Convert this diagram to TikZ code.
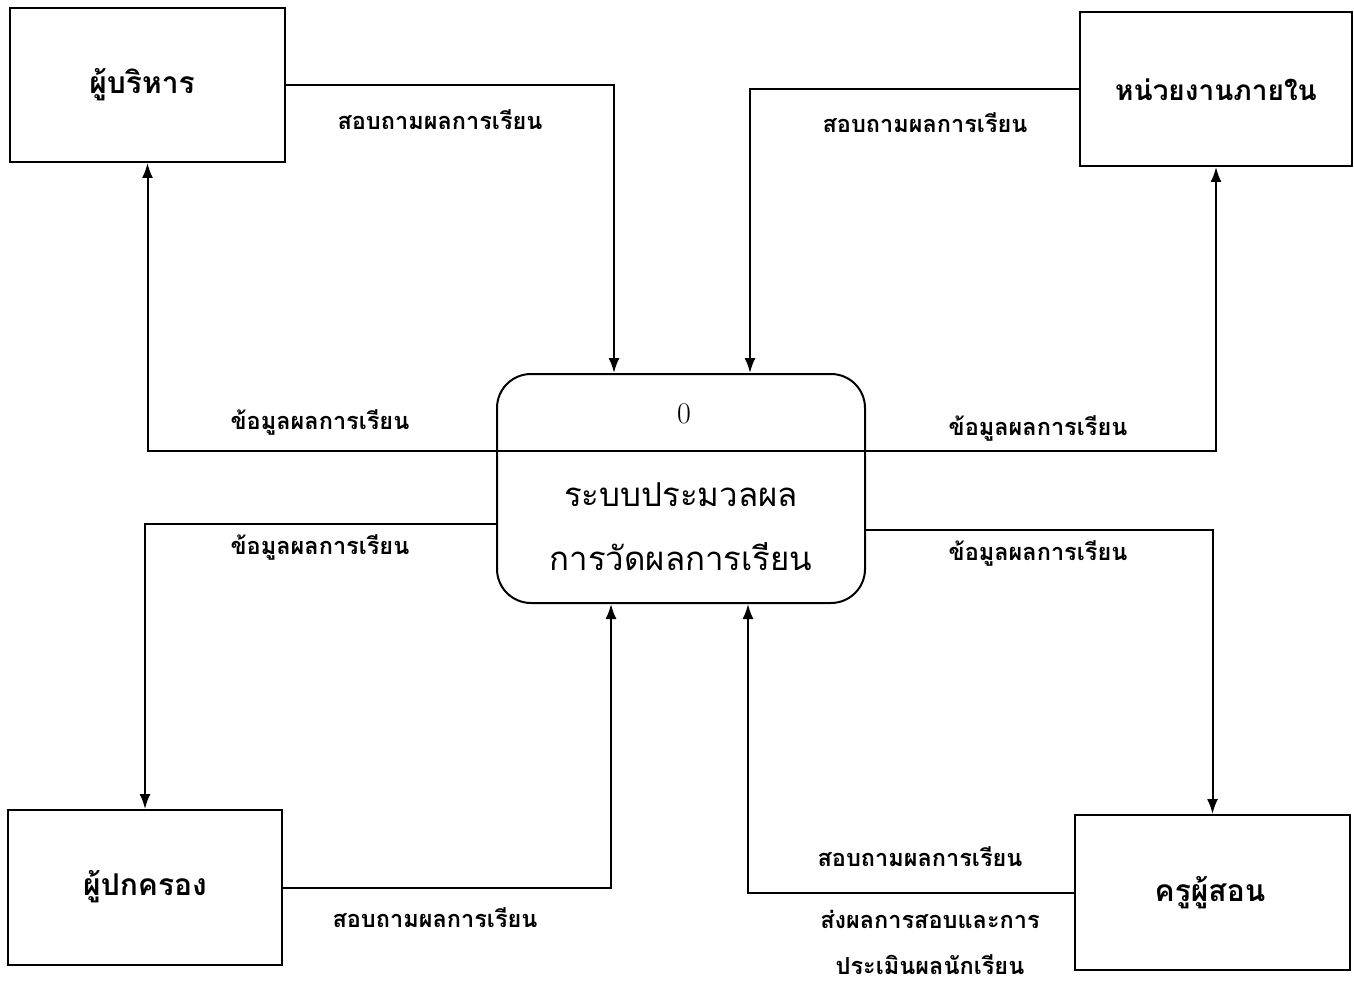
\documentclass[tikz,border=0pt]{standalone}
\usepackage{fontspec}
\newfontfamily\thai[Script=Thai]{Loma}
\usetikzlibrary{arrows.meta}
\begin{document}
\begin{tikzpicture}[x=1pt,y=-1pt,
  line width=2pt,
  entity/.style={draw, minimum width=275pt, minimum height=154pt, inner sep=0pt},
  entitylabel/.style={inner sep=0pt, font=\thai\bfseries\fontsize{30}{34}\selectfont},
  process/.style={draw, rounded corners=34pt, minimum width=368pt, minimum height=229pt, inner sep=0pt},
  flow/.style={-{Latex[length=15pt,width=11pt]}},
  flowlabel/.style={inner sep=0pt, font=\thai\bfseries\fontsize{23.5}{27}\selectfont},
  proclabel/.style={inner sep=0pt, font=\thai\fontsize{33}{37}\selectfont}]
\useasboundingbox (0,0) rectangle (1354,987);

% external entities
\node[entity] (exec) at (147.5,85) {};
\node[entity, minimum width=272pt] (internal) at (1216,89) {};
\node[entity, minimum width=274pt, minimum height=155pt] (parent) at (145,887.5) {};
\node[entity, minimum height=155pt] (teacher) at (1212.5,892.5) {};

\node[entitylabel] (execT) at (142,85) {ผู้บริหาร};
\node[entitylabel, font=\thai\bfseries\fontsize{28}{32}\selectfont] (internalT) at (1216,90) {หน่วยงานภายใน};
\node[entitylabel] (parentT) at (145,887) {ผู้ปกครอง};
\node[entitylabel] (teacherT) at (1210,893) {ครูผู้สอน};

% process
\node[process] (proc) at (681,488.5) {};
\node[inner sep=0pt, font=\fontsize{30}{34}\selectfont] (procid) at (684,414) {0};
\node[proclabel] (procA) at (681,495) {ระบบประมวลผล};
\node[proclabel] (procB) at (681,557) {การวัดผลการเรียน};

% process divider, continued by the flows to the upper entities
\draw ([yshift=37.5pt]proc.west) -- ([yshift=37.5pt]proc.east);

% flows
\draw[flow] (exec.east) -| ([xshift=-67pt]proc.north);
\draw[flow] (internal.west) -| ([xshift=69pt]proc.north);
\draw[flow] ([yshift=37.5pt]proc.west) -| (exec.south);
\draw[flow] ([yshift=37.5pt]proc.east) -| (internal.south);
\draw[flow] ([yshift=-35.5pt]proc.west) -| (parent.north);
\draw[flow] ([yshift=-41.5pt]proc.east) -| (teacher.north);
\draw[flow] (parent.east) -| ([xshift=-70pt]proc.south);
\draw[flow] (teacher.west) -| ([xshift=67pt]proc.south);

% flow labels
\node[flowlabel] (l1) at (440,120) {สอบถามผลการเรียน};
\node[flowlabel] (l2) at (925,123) {สอบถามผลการเรียน};
\node[flowlabel] (l3) at (320,422) {ข้อมูลผลการเรียน};
\node[flowlabel] (l4) at (1038,428) {ข้อมูลผลการเรียน};
\node[flowlabel] (l5) at (320,547) {ข้อมูลผลการเรียน};
\node[flowlabel] (l6) at (1038,553) {ข้อมูลผลการเรียน};
\node[flowlabel] (l7) at (435,918) {สอบถามผลการเรียน};
\node[flowlabel] (l8) at (920,857) {สอบถามผลการเรียน};
\node[flowlabel] (l9) at (930,919) {ส่งผลการสอบและการ};
\node[flowlabel] (l10) at (930,965) {ประเมินผลนักเรียน};
\end{tikzpicture}
\end{document}
